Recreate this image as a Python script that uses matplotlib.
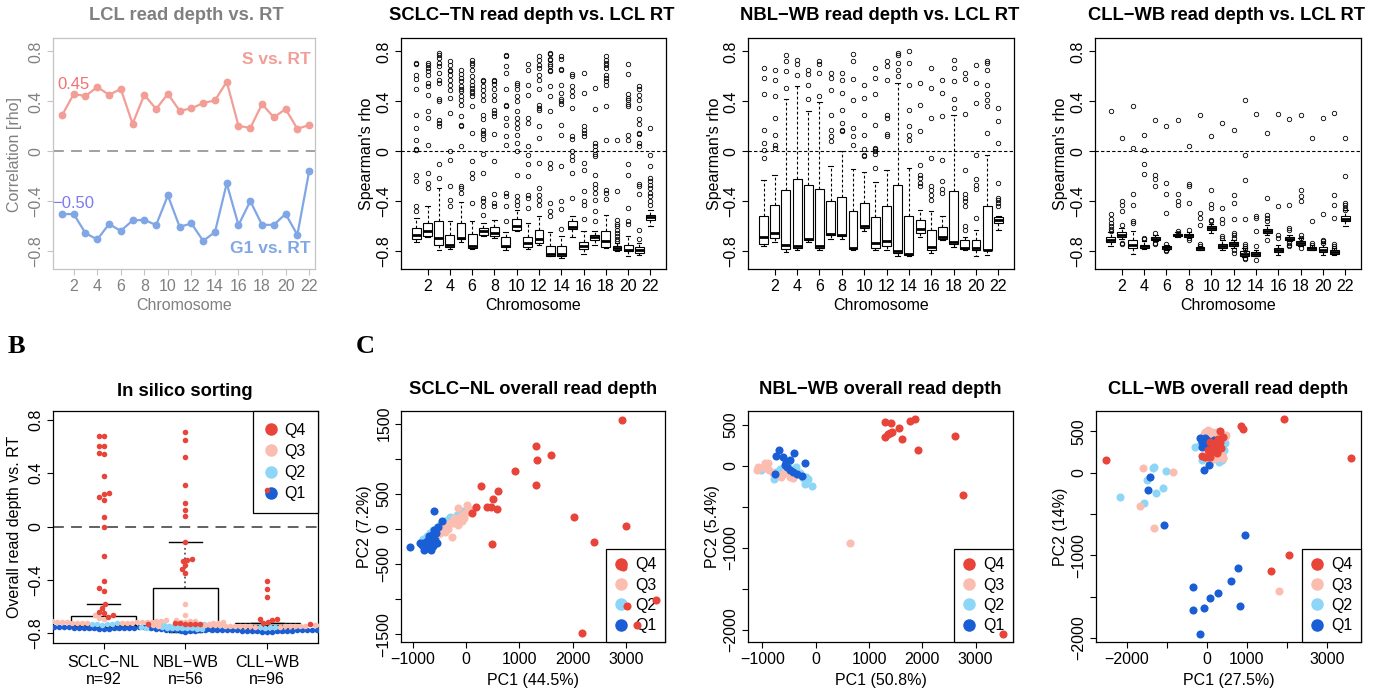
import numpy as np
import matplotlib
matplotlib.use("Agg")
import matplotlib.pyplot as plt
from matplotlib.lines import Line2D

plt.rcParams['font.family'] = ['Liberation Sans', 'DejaVu Sans']
plt.rcParams['axes.unicode_minus'] = True

W, H = 1384, 692
MINUS = "\u2212"

# ---------------------------------------------------------------- data
CHROM = list(range(1, 23))

# LCL read depth vs. replication timing, per chromosome
S_RHO = [0.288, 0.459, 0.443, 0.515, 0.453, 0.499, 0.221, 0.453, 0.339, 0.461, 0.325,
         0.344, 0.387, 0.408, 0.557, 0.205, 0.187, 0.379, 0.272, 0.339, 0.181, 0.211]
G1_RHO = [-0.501, -0.501, -0.653, -0.704, -0.581, -0.635, -0.552, -0.547, -0.589, -0.352, -0.603,
          -0.576, -0.715, -0.645, -0.256, -0.589, -0.397, -0.587, -0.587, -0.499, -0.667, -0.160]

# SCLC-TN per-chromosome box statistics
TN_Q3 = [-0.616, -0.573, -0.555, -0.667, -0.573, -0.661, -0.613, -0.608, -0.685, -0.541, -0.685,
         -0.627, -0.755, -0.755, -0.555, -0.725, -0.667, -0.635, -0.755, -0.747, -0.768, -0.507]
TN_MED = [-0.667, -0.640, -0.693, -0.752, -0.693, -0.760, -0.635, -0.653, -0.755, -0.600, -0.733,
          -0.701, -0.819, -0.819, -0.608, -0.760, -0.688, -0.720, -0.773, -0.787, -0.787, -0.525]
TN_Q1 = [-0.701, -0.675, -0.752, -0.765, -0.701, -0.773, -0.667, -0.675, -0.765, -0.627, -0.765,
         -0.733, -0.835, -0.840, -0.621, -0.781, -0.712, -0.765, -0.792, -0.800, -0.813, -0.547]
TN_HI = [-0.533, -0.440, -0.293, -0.560, -0.405, -0.560, -0.573, -0.547, -0.645, -0.467, -0.573,
         -0.520, -0.645, -0.680, -0.515, -0.640, -0.635, -0.507, -0.733, -0.680, -0.733, -0.472]
TN_LO = [-0.725, -0.688, -0.787, -0.781, -0.728, -0.781, -0.675, -0.693, -0.792, -0.640, -0.781,
         -0.747, -0.840, -0.853, -0.688, -0.819, -0.752, -0.770, -0.800, -0.835, -0.827, -0.600]
TN_OUT = [
    [0.71, 0.70, 0.61, 0.58, 0.50, 0.29, 0.19, 0.09, 0.02, 0.01, -0.19, -0.24, -0.44, -0.48],
    [0.71, 0.69, 0.67, 0.64, 0.61, 0.55, 0.52, 0.45, 0.32, 0.27, 0.05, -0.17, -0.25, -0.29],
    [0.79, 0.77, 0.75, 0.71, 0.68, 0.63, 0.57, 0.55, 0.42, 0.40, 0.25, 0.23, 0.20, -0.10, -0.21],
    [0.72, 0.69, 0.65, 0.64, 0.61, 0.57, 0.53, 0.49, 0.43, 0.31, 0.00, -0.07, -0.28, -0.39, -0.44],
    [0.65, 0.62, 0.59, 0.56, 0.52, 0.50, 0.48, 0.44, 0.41, 0.37, 0.28, 0.21, 0.20, 0.04, -0.28, -0.29, -0.33],
    [0.73, 0.71, 0.69, 0.65, 0.60, 0.56, 0.53, 0.51, 0.48, 0.47, 0.44, 0.36, 0.15, -0.08, -0.17, -0.21, -0.41],
    [0.57, 0.56, 0.52, 0.49, 0.45, 0.41, 0.29, 0.26, 0.17, 0.15, 0.13, 0.10, -0.02, -0.17, -0.37, -0.40, -0.44, -0.51],
    [0.57, 0.56, 0.54, 0.50, 0.45, 0.41, 0.33, 0.31, 0.28, 0.14, -0.08, -0.34, -0.41, -0.44],
    [0.77, 0.76, 0.68, 0.63, 0.50, 0.37, 0.36, 0.27, 0.21, 0.12, 0.05, -0.33, -0.36, -0.44, -0.56],
    [0.55, 0.53, 0.50, 0.44, 0.40, 0.32, 0.27, 0.23, 0.19, 0.13, 0.07, 0.00, -0.19, -0.36, -0.40, -0.43],
    [0.70, 0.65, 0.53, 0.45, 0.27, 0.23, 0.04, -0.03, -0.10, -0.20, -0.35, -0.37, -0.45],
    [0.76, 0.73, 0.69, 0.67, 0.61, 0.57, 0.50, 0.37, 0.35, 0.33, 0.20, 0.11, -0.09, -0.29, -0.35, -0.39, -0.43],
    [0.79, 0.78, 0.74, 0.73, 0.70, 0.68, 0.65, 0.64, 0.52, 0.44, 0.32, -0.09, -0.13, -0.41, -0.48, -0.52],
    [0.76, 0.74, 0.66, 0.65, 0.53, 0.47, 0.42, 0.40, 0.38, 0.21, 0.13, -0.12, -0.40, -0.46, -0.62],
    [0.62, 0.60, 0.52, 0.48, 0.44, 0.35, 0.12, 0.10, 0.00, -0.04, -0.07, -0.17, -0.37],
    [0.63, 0.47, 0.20, 0.17, 0.15, 0.12, -0.09, -0.15, -0.32, -0.40, -0.43, -0.54],
    [0.51, 0.34, 0.07, 0.04, 0.01, -0.02, -0.04, -0.19, -0.26, -0.29, -0.33, -0.39, -0.48, -0.56],
    [0.76, 0.73, 0.71, 0.69, 0.67, 0.61, 0.59, 0.56, 0.53, 0.36, 0.09, -0.31, -0.33, -0.38],
    [0.09, -0.32, -0.55, -0.58, -0.60, -0.63, -0.65, -0.68, -0.70, -0.72],
    [0.70, 0.62, 0.46, 0.43, 0.41, 0.38, 0.36, 0.13, 0.09, -0.10, -0.19, -0.45, -0.56, -0.58],
    [0.52, 0.50, 0.45, 0.41, 0.35, 0.26, 0.22, 0.15, 0.14, 0.07, 0.04, -0.26, -0.28, -0.34, -0.63, -0.70],
    [0.19, -0.03, -0.12, -0.21, -0.24, -0.27, -0.29, -0.33, -0.36, -0.40, -0.43],
]

# NBL-WB per-chromosome box statistics
NBL_Q3 = [-0.520, -0.427, -0.307, -0.219, -0.272, -0.301, -0.395, -0.365, -0.475, -0.413, -0.528,
          -0.440, -0.267, -0.520, -0.547, -0.627, -0.608, -0.320, -0.712, -0.707, -0.435, -0.528]
NBL_MED = [-0.685, -0.653, -0.747, -0.755, -0.701, -0.760, -0.661, -0.667, -0.773, -0.600, -0.733,
           -0.720, -0.800, -0.819, -0.621, -0.765, -0.685, -0.725, -0.773, -0.773, -0.787, -0.547]
NBL_Q1 = [-0.739, -0.693, -0.781, -0.773, -0.707, -0.773, -0.667, -0.680, -0.779, -0.613, -0.773,
          -0.760, -0.813, -0.827, -0.653, -0.787, -0.701, -0.739, -0.781, -0.792, -0.792, -0.573]
NBL_HI = [-0.227, -0.187, 0.419, 0.525, 0.320, 0.395, -0.115, 0.000, -0.139, -0.168, -0.248,
          -0.152, 0.547, -0.133, -0.467, -0.480, -0.515, 0.293, -0.685, -0.632, -0.027, -0.515]
NBL_LO = [-0.760, -0.728, -0.808, -0.792, -0.728, -0.787, -0.701, -0.701, -0.787, -0.640, -0.792,
          -0.792, -0.835, -0.840, -0.685, -0.813, -0.712, -0.765, -0.787, -0.835, -0.827, -0.627]
NBL_OUT = [
    [0.67, 0.59, 0.46, 0.17, 0.07, 0.01, -0.05],
    [0.65, 0.57, 0.44, 0.27, 0.13, 0.05, 0.03],
    [0.77, 0.72, 0.64, 0.51],
    [0.73, 0.70, 0.61],
    [0.65, 0.62, 0.53, 0.42],
    [0.72, 0.70, 0.63, 0.44],
    [0.63, 0.59, 0.49, 0.29, 0.17, 0.12, 0.08],
    [0.63, 0.57, 0.47, 0.33, 0.23, 0.17, 0.16],
    [0.78, 0.72, 0.58, 0.41, 0.19, 0.12, 0.05],
    [0.53, 0.43, 0.29, 0.13, 0.02, -0.03, -0.04],
    [0.67, 0.59, 0.46, 0.21, 0.03, 0.02, 0.00, -0.02, -0.13],
    [0.72, 0.68, 0.57, 0.29, 0.27, 0.14, 0.12],
    [0.79, 0.77, 0.71, 0.65, 0.60],
    [0.80, 0.71, 0.53, 0.33, 0.20, 0.13, 0.09],
    [0.55, 0.37, 0.16, -0.11, -0.19, -0.21, -0.25, -0.28],
    [0.67, 0.51, 0.27, -0.05, -0.28, -0.31, -0.35, -0.39],
    [0.57, 0.47, 0.28, -0.07, -0.24, -0.30, -0.33],
    [0.73, 0.67, 0.56, 0.42, 0.35],
    [0.63, 0.58, 0.30, -0.15, -0.34, -0.37, -0.40, -0.44, -0.60, -0.63],
    [0.69, 0.55, 0.39, -0.03, -0.22, -0.27, -0.30, -0.53],
    [0.72, 0.71, 0.65, 0.53, 0.46, 0.41, 0.36, 0.15],
    [0.35, 0.24, 0.07, -0.25, -0.37, -0.39, -0.41, -0.44],
]

# CLL-WB per-chromosome box statistics
CLL_Q3 = [-0.688, -0.648, -0.712, -0.747, -0.685, -0.760, -0.661, -0.661, -0.765, -0.595, -0.739,
          -0.728, -0.800, -0.805, -0.621, -0.773, -0.685, -0.720, -0.765, -0.768, -0.792, -0.520]
CLL_MED = [-0.707, -0.667, -0.747, -0.760, -0.699, -0.768, -0.667, -0.672, -0.773, -0.613, -0.760,
           -0.741, -0.819, -0.819, -0.635, -0.787, -0.699, -0.733, -0.776, -0.787, -0.805, -0.539]
CLL_Q1 = [-0.725, -0.685, -0.773, -0.773, -0.712, -0.781, -0.680, -0.685, -0.787, -0.627, -0.773,
          -0.755, -0.835, -0.835, -0.653, -0.805, -0.712, -0.747, -0.787, -0.805, -0.819, -0.560]
CLL_HI = [-0.648, -0.613, -0.635, -0.720, -0.667, -0.747, -0.648, -0.645, -0.755, -0.579, -0.712,
          -0.707, -0.773, -0.787, -0.587, -0.747, -0.667, -0.693, -0.747, -0.733, -0.773, -0.472]
CLL_LO = [-0.760, -0.701, -0.819, -0.781, -0.720, -0.787, -0.685, -0.693, -0.792, -0.653, -0.787,
          -0.773, -0.845, -0.840, -0.667, -0.827, -0.720, -0.755, -0.792, -0.827, -0.827, -0.600]
CLL_OUT = [
    [0.32, -0.50, -0.54, -0.57, -0.60, -0.62, -0.64],
    [0.11, -0.40, -0.43, -0.48, -0.59, -0.73, -0.74],
    [0.36, 0.03, -0.34, -0.43, -0.56, -0.57],
    [0.13, 0.01, -0.10, -0.18, -0.69, -0.70],
    [0.25, -0.19, -0.22, -0.28, -0.65, -0.73, -0.74],
    [0.20, -0.25, -0.34, -0.49, -0.74, -0.79, -0.80],
    [0.25, -0.34, -0.40, -0.43, -0.64, -0.65],
    [0.04, -0.26, -0.28, -0.41, -0.63, -0.69, -0.71],
    [0.29, -0.49, -0.53, -0.59, -0.74, -0.76],
    [0.12, -0.31, -0.42, -0.45, -0.55, -0.56],
    [0.23, -0.45, -0.54, -0.57, -0.68, -0.69],
    [0.17, -0.35, -0.41, -0.54, -0.65, -0.67, -0.69, -0.79, -0.81],
    [0.41, -0.03, -0.23, -0.54, -0.74, -0.76, -0.77, -0.79, -0.85, -0.86],
    [0.30, -0.52, -0.53, -0.64, -0.76, -0.87],
    [0.15, -0.37, -0.51, -0.53, -0.56, -0.71],
    [0.30, -0.44, -0.67, -0.69],
    [0.26, -0.43, -0.61, -0.63, -0.73, -0.75, -0.76],
    [0.29, -0.31, -0.36, -0.40, -0.67, -0.69, -0.77],
    [0.11, -0.56, -0.73, -0.75],
    [0.27, -0.50, -0.71, -0.72, -0.73],
    [0.31, -0.35, -0.43, -0.53, -0.74, -0.76, -0.77],
    [0.11, -0.20, -0.41, -0.43, -0.45, -0.47],
]

# In silico sorting: overall read depth vs. RT per cell, split by quartile
SORT_GROUPS = ["SCLC" + MINUS + "NL", "NBL" + MINUS + "WB", "CLL" + MINUS + "WB"]
NL_Q4 = [0.68, 0.68, 0.60, 0.60, 0.55, 0.54, 0.38, 0.25, 0.24, 0.22, 0.20, 0.07, 0.00, -0.22,
         -0.41, -0.46, -0.48, -0.58, -0.61, -0.64, -0.645, -0.66, -0.675]
NL_Q3 = [-0.665, -0.684, -0.693, -0.702, -0.704, -0.707, -0.709, -0.71, -0.711, -0.713, -0.713, -0.715,
         -0.716, -0.716, -0.717, -0.718, -0.719, -0.719, -0.72, -0.721, -0.722, -0.723, -0.724]
NL_Q2 = [-0.726, -0.727, -0.729, -0.73, -0.73, -0.731, -0.732, -0.733, -0.734, -0.734, -0.735, -0.736,
         -0.737, -0.737, -0.738, -0.739, -0.74, -0.741, -0.741, -0.742, -0.743, -0.745, -0.747]
NL_Q1 = [-0.748, -0.749, -0.75, -0.751, -0.751, -0.752, -0.753, -0.754, -0.754, -0.755, -0.756, -0.756,
         -0.757, -0.758, -0.758, -0.759, -0.76, -0.761, -0.762, -0.763, -0.764, -0.766, -0.769]
WB_Q4 = [0.71, 0.65, 0.52, 0.31, 0.175, 0.125, 0.08, -0.115, -0.245, -0.25, -0.26, -0.29, -0.32, -0.345]
WB_Q3 = [-0.58, -0.66, -0.70, -0.706, -0.709, -0.712, -0.714, -0.716, -0.719, -0.721, -0.724, -0.726,
         -0.729, -0.731]
WB_Q2 = [-0.734, -0.736, -0.739, -0.741, -0.742, -0.744, -0.746, -0.748, -0.75, -0.751, -0.753, -0.755,
         -0.758, -0.76]
WB_Q1 = [-0.763, -0.765, -0.767, -0.768, -0.77, -0.772, -0.773, -0.775, -0.777, -0.778, -0.78, -0.782,
         -0.785, -0.788]
CL_Q4 = [0.27, -0.41, -0.47, -0.53, -0.69, -0.695, -0.70, -0.718, -0.722, -0.724, -0.725, -0.726,
         -0.727, -0.728, -0.728, -0.729, -0.73, -0.73, -0.731, -0.731, -0.732, -0.733, -0.733, -0.734]
CL_Q3 = [-0.735, -0.736, -0.736, -0.737, -0.738, -0.738, -0.739, -0.74, -0.74, -0.741, -0.741, -0.742,
         -0.742, -0.743, -0.744, -0.744, -0.745, -0.745, -0.746, -0.747, -0.747, -0.748, -0.749, -0.75]
CL_Q2 = [-0.751, -0.752, -0.752, -0.753, -0.754, -0.755, -0.755, -0.756, -0.757, -0.757, -0.758, -0.759,
         -0.759, -0.76, -0.761, -0.761, -0.762, -0.763, -0.763, -0.764, -0.765, -0.766, -0.767, -0.768]
CL_Q1 = [-0.769, -0.77, -0.771, -0.772, -0.772, -0.773, -0.774, -0.775, -0.775, -0.776, -0.777, -0.778,
         -0.778, -0.779, -0.78, -0.781, -0.781, -0.782, -0.783, -0.784, -0.785, -0.786, -0.788, -0.79]
SORT_Q3 = [-0.668, -0.458, -0.722]
SORT_MED = [-0.735, -0.745, -0.745]
SORT_Q1 = [-0.750, -0.765, -0.760]
SORT_HI = [-0.580, -0.115, -0.720]
SORT_LO = [-0.770, -0.790, -0.790]

# PCA of overall read depth, by quartile
NL_PC1_Q4 = [2919, 1313, 1331, 1588, 913, 1306, 275, 606, 513, 181, 119, 388, 575, 469, 2025, 3000,
             2400, 488, 2938, 3563, 3013, 3200, 2181]
NL_PC2_Q4 = [1545, 1183, 981, 1047, 826, 620, 610, 540, 423, 315, 221, 310, 282, 315, 174, 42,
             -183, -216, -540, -1009, -1103, -1376, -1479]
NL_PC1_Q3 = [-144, 13, -206, -113, -238, -50, -19, -363, -269, -425, -488, -175, -81, -300, 44, 106,
             -331, -144, -394, -225, -38, -550, -456]
NL_PC2_Q3 = [300, 338, 127, 174, 80, 197, 230, 33, -117, -14, -61, 103, 117, 89, 244, 268, 0, 56,
             -38, 160, 150, -85, 56]
NL_PC1_Q2 = [-300, -363, -488, -550, -425, -331, -613, -675, -81, -175, -519, -738, -800, -581, -238,
             -456, -644, -394, -831, -269, -488, -706, -363]
NL_PC2_Q2 = [174, 127, 56, 33, 103, 80, -14, -61, 254, 197, -5, -108, -146, -38, 150, 33, -85, 56,
             -178, 127, -14, -131, 9]
NL_PC1_Q1 = [-594, -444, -519, -1044, -800, -769, -675, -644, -613, -581, -706, -550, -831, -738, -644,
             -725, -563, -625, -688, -788, -594, -863, -663]
NL_PC2_Q1 = [258, 117, 23, -254, -202, -272, -155, -202, -108, -155, -225, -202, -225, -249, -85,
             -178, -61, -249, -108, -296, -14, -202, -296]

WB_PC1_Q4 = [1306, 1419, 1763, 1856, 1563, 1388, 1438, 1300, 1625, 1919, 2606, 2763, 3513, 1350]
WB_PC2_Q4 = [536, 515, 544, 564, 458, 394, 414, 345, 325, 191, 361, -353, -2049, 380]
WB_PC1_Q3 = [-1081, -956, -894, -1100, -869, -988, -613, -644, -488, -425, -581, -800, 638, -925]
WB_PC2_Q3 = [-12, 28, 37, -53, -53, -20, -101, -134, -134, -154, -73, -93, -945, -32]
WB_PC1_Q2 = [-1019, -788, -363, -300, -188, -144, -206, -63, -456, -519, -675, -738, -238, -394]
WB_PC2_Q2 = [-53, -166, -20, -93, -134, -162, -223, -243, -73, 8, -45, -73, -154, -114]
WB_PC1_Q1 = [-688, -750, -613, -413, -550, -488, -581, -538, -488, -769, -206, -344, -250, -425]
WB_PC2_Q1 = [191, 118, 110, 158, 49, 69, 8, -12, -53, -105, 28, -101, -122, -73]

CL_PC1_Q4 = [-2517, 3600, 1917, 850, 892, 333, 400, 83, 208, 292, 150, 233, 25, 350, -42, 67, 250,
             167, 125, 317, 2042, 1600, -125, 275]
CL_PC2_Q4 = [153, 181, 644, 567, 527, 507, 435, 374, 354, 334, 294, 274, 274, 294, 185, 193, 233,
             314, 254, 374, -998, -1195, 201, 402]
CL_PC1_Q3 = [-1600, -850, -1667, -1333, 1792, 0, 125, -83, 483, 250, 42, 375, 183, 83, 292, -42, 458,
             150, 333, 208, 17, 400, 125, 267]
CL_PC2_Q3 = [52, 12, -402, -672, -1437, 483, 495, 467, 455, 173, 153, 213, 475, 443, 193, 495, 427,
             161, 414, 455, 515, 173, 201, 487]
CL_PC1_Q2 = [-2183, -1333, -1350, -1017, -1500, -1267, -1100, -1583, -292, -125, 400, 375, 250, 417,
             -83, 42, -167, 292, 167, 458, 83, 375, 208, -42]
CL_PC2_Q2 = [-290, 72, 52, 20, -89, -249, -189, -362, 314, 153, 173, 225, 495, 274, 394, 435, 334,
             133, 475, 354, 133, 153, 414, 354]
CL_PC1_Q1 = [-1433, -1483, -1067, 942, 767, 608, -350, 275, 67, -67, -350, 833, -183, -67, 42, -125,
             -125, 0, 125, -83, -42, 83, -167, 167]
CL_PC2_Q1 = [-56, -209, -636, -757, -1159, -1316, -1384, -1457, -1517, -1638, -1666, -1618, -1948,
             32, 93, 374, 314, 394, 374, 334, 414, 314, 414, 394]

# ---------------------------------------------------------------- style
Q_COLORS = {"Q4": "#E8443A", "Q3": "#FBBDAF", "Q2": "#8ED6F8", "Q1": "#1A5ED6"}
S_COLOR, G1_COLOR = "#F29E97", "#80A6E6"
GREY_TXT, GREY_AX = "#808080", "#C4C4C4"
FS_TICK, FS_LAB, FS_TITLE = 11.5, 11.5, 13.2

fig = plt.figure(figsize=(W / 100, H / 100), dpi=100)


def axes_px(x0, y0, x1, y1):
    return fig.add_axes([x0 / W, 1 - y1 / H, (x1 - x0) / W, (y1 - y0) / H])


def ftext(xp, yp, s, **kw):
    fig.text(xp / W, 1 - yp / H, s, **kw)


def fmt(v):
    s = ("%g" % v)
    return s.replace("-", MINUS)


def r_axes(ax, color="black", labelcolor="black"):
    for sp in ax.spines.values():
        sp.set_color(color)
        sp.set_linewidth(0.9)
    ax.tick_params(direction="out", length=4.5, width=0.8, color=color,
                   labelcolor=labelcolor, labelsize=FS_TICK, pad=2.5)


def set_yticks(ax, ticks, labels=None):
    ax.set_yticks(ticks)
    if labels is None:
        labels = [fmt(t) for t in ticks]
    ax.set_yticklabels(labels, rotation=90, va="center")


def set_xticks(ax, ticks, labels=None):
    ax.set_xticks(ticks)
    if labels is None:
        labels = [fmt(t) for t in ticks]
    ax.set_xticklabels(labels)


# ---------------------------------------------------------------- A1: LCL lines
ax = axes_px(53, 38, 315, 269)
ax.axhline(0, color="#999999", lw=1.3, dashes=(6, 4), zorder=1)
ax.plot(CHROM, S_RHO, "-o", color=S_COLOR, lw=1.6, ms=4.6, zorder=3)
ax.plot(CHROM, G1_RHO, "-o", color=G1_COLOR, lw=1.6, ms=4.6, zorder=3)
ax.set_xlim(0.24, 22.5)
ax.set_ylim(-0.94, 0.907)
r_axes(ax, GREY_AX, GREY_TXT)
set_xticks(ax, list(range(2, 23, 2)))
set_yticks(ax, [-0.8, -0.4, 0, 0.4, 0.8])
ax.text(22.1, 0.733, "S vs. RT", color=S_COLOR, fontsize=12.5, fontweight="bold",
        ha="right", va="center")
ax.text(22.1, -0.773, "G1 vs. RT", color=G1_COLOR, fontsize=12.5, fontweight="bold",
        ha="right", va="center")
ax.text(0.62, 0.535, "0.45", color="#F07272", fontsize=12, ha="left", va="center")
ax.text(0.15, -0.42, MINUS + "0.50", color="#7B7BF2", fontsize=12, ha="left", va="center")
ftext(186, 15, "LCL read depth vs. RT", ha="center", va="center", fontsize=FS_TITLE,
      fontweight="bold", color=GREY_TXT)
ftext(15, 154, "Correlation [rho]", ha="center", va="center", rotation=90,
      fontsize=FS_LAB, color=GREY_TXT)
ftext(184, 305, "Chromosome", ha="center", va="center", fontsize=FS_LAB, color=GREY_TXT)


# ---------------------------------------------------------------- A2-A4: boxplots
def chrom_boxes(box_px, q1, med, q3, lo, hi, out, title, title_x):
    ax = axes_px(*box_px)
    stats = [dict(q1=a, med=b, q3=c, whislo=d, whishi=e, fliers=f)
             for a, b, c, d, e, f in zip(q1, med, q3, lo, hi, out)]
    ax.axhline(0, color="black", lw=0.8, dashes=(3, 2), zorder=1)
    ax.bxp(stats, positions=CHROM, widths=0.8, capwidths=0.4, patch_artist=True,
           manage_ticks=False,
           boxprops=dict(facecolor="white", edgecolor="black", lw=0.8),
           medianprops=dict(color="black", lw=2.0, solid_capstyle="butt"),
           whiskerprops=dict(color="black", lw=0.8, dashes=(2.5, 2)),
           capprops=dict(color="black", lw=0.8),
           flierprops=dict(marker="o", mfc="none", mec="black", ms=3.2, mew=0.6))
    ax.set_xlim(-0.39, 23.4)
    ax.set_ylim(-0.94, 0.907)
    r_axes(ax)
    set_xticks(ax, list(range(2, 23, 2)))
    set_yticks(ax, [-0.8, -0.4, 0, 0.4, 0.8])
    x0, y0, x1, y1 = box_px
    ftext(title_x, 15, title, ha="center", va="center", fontsize=FS_TITLE, fontweight="bold")
    ftext(x0 - 34, (y0 + y1) / 2, "Spearman's rho", ha="center", va="center", rotation=90,
          fontsize=FS_LAB)
    ftext((x0 + x1) / 2, 305, "Chromosome", ha="center", va="center", fontsize=FS_LAB)
    return ax


chrom_boxes((401, 38, 666, 269), TN_Q1, TN_MED, TN_Q3, TN_LO, TN_HI, TN_OUT,
            "SCLC" + MINUS + "TN read depth vs. LCL RT", 532)
chrom_boxes((748, 38, 1014, 269), NBL_Q1, NBL_MED, NBL_Q3, NBL_LO, NBL_HI, NBL_OUT,
            "NBL" + MINUS + "WB read depth vs. LCL RT", 880)
chrom_boxes((1095, 38, 1361, 269), CLL_Q1, CLL_MED, CLL_Q3, CLL_LO, CLL_HI, CLL_OUT,
            "CLL" + MINUS + "WB read depth vs. LCL RT", 1227)


# ---------------------------------------------------------------- B: in silico sorting
def legend_q(ax, loc, borderpad=0.55, labelspacing=0.33):
    handles = [Line2D([0], [0], marker="o", ls="none", mfc=Q_COLORS[q], mec=Q_COLORS[q], ms=8)
               for q in ["Q4", "Q3", "Q2", "Q1"]]
    leg = ax.legend(handles, ["Q4", "Q3", "Q2", "Q1"], loc=loc, frameon=True, fancybox=False,
                    edgecolor="black", framealpha=1, borderaxespad=0, fontsize=FS_TICK,
                    handlelength=0.8, handletextpad=0.45, labelspacing=labelspacing,
                    borderpad=borderpad)
    leg.get_frame().set_linewidth(0.9)
    leg.set_zorder(5)
    return leg


def swarm_offsets(ypix, diam):
    ypix = np.asarray(ypix, float)
    xs = np.zeros(len(ypix))
    done = []
    for i in np.argsort(ypix, kind="stable"):
        y = ypix[i]
        spans = []
        for j in done:
            dy = abs(ypix[j] - y)
            if dy < diam:
                half = np.sqrt(diam ** 2 - dy ** 2)
                spans.append((xs[j] - half, xs[j] + half))
        cands = [0.0] + [a for a, _ in spans] + [b for _, b in spans]
        cands.sort(key=lambda c: (abs(c), c))
        for c in cands:
            if all(c <= a + 1e-6 or c >= b - 1e-6 for a, b in spans):
                xs[i] = c
                break
        done.append(i)
    return xs


axB = axes_px(53, 411, 318, 643)
axB.set_xlim(0.38, 3.62)
axB.set_ylim(-0.872, 0.865)
axB.axhline(0, color="#555555", lw=1.3, dashes=(6, 4), zorder=1)
bstats = [dict(q1=a, med=b, q3=c, whislo=d, whishi=e, fliers=[])
          for a, b, c, d, e in zip(SORT_Q1, SORT_MED, SORT_Q3, SORT_LO, SORT_HI)]
axB.bxp(bstats, positions=[1, 2, 3], widths=0.8, capwidths=0.4, patch_artist=True,
        manage_ticks=False, showfliers=False,
        boxprops=dict(facecolor="white", edgecolor="black", lw=1.0),
        medianprops=dict(color="black", lw=2.0),
        whiskerprops=dict(color="#555555", lw=1.3, ls=":"),
        capprops=dict(color="black", lw=1.0))
sort_sets = [
    {"Q1": NL_Q1, "Q2": NL_Q2, "Q3": NL_Q3, "Q4": NL_Q4},
    {"Q1": WB_Q1, "Q2": WB_Q2, "Q3": WB_Q3, "Q4": WB_Q4},
    {"Q1": CL_Q1, "Q2": CL_Q2, "Q3": CL_Q3, "Q4": CL_Q4},
]
px_x = axB.transData.transform((1, 0))[0] - axB.transData.transform((0, 0))[0]
for g, qsets in enumerate(sort_sets, start=1):
    order = ["Q1", "Q2", "Q3", "Q4"]
    yv = np.concatenate([qsets[q] for q in order])
    lab = np.concatenate([[q] * len(qsets[q]) for q in order])
    ypix = axB.transData.transform(np.column_stack([np.full(len(yv), g), yv]))[:, 1]
    xoff = swarm_offsets(ypix, 5.0) / px_x
    for q in order:
        m = lab == q
        axB.scatter(g + xoff[m], yv[m], s=16, color=Q_COLORS[q], linewidths=0, zorder=6)
    axB.text(g, -0.082, SORT_GROUPS[g - 1], transform=axB.get_xaxis_transform(),
             ha="center", va="center", fontsize=FS_TICK)
    axB.text(g, -0.159, "n=%d" % len(yv), transform=axB.get_xaxis_transform(),
             ha="center", va="center", fontsize=FS_TICK)
r_axes(axB)
axB.set_xticks([1, 2, 3])
axB.set_xticklabels([])
set_yticks(axB, [-0.8, -0.4, 0, 0.4, 0.8])
legend_q(axB, "upper right", borderpad=0.75, labelspacing=0.38)
ftext(185, 391, "In silico sorting", ha="center", va="center", fontsize=FS_TITLE, fontweight="bold")
ftext(15, 527, "Overall read depth vs. RT", ha="center", va="center", rotation=90, fontsize=FS_LAB)
ftext(8, 347, "B", ha="left", va="center", fontsize=19, fontweight="bold", family="Liberation Serif")
ftext(356, 347, "C", ha="left", va="center", fontsize=19, fontweight="bold", family="Liberation Serif")


# ---------------------------------------------------------------- C: PCA scatter
def pca_panel(box_px, pcs, xlim, ylim, xt, xtl, yt, ytl, title, xlab, ylab):
    ax = axes_px(*box_px)
    for q in ["Q2", "Q3", "Q1", "Q4"]:
        px, py = pcs[q]
        ax.scatter(px, py, s=34, color=Q_COLORS[q], linewidths=0, zorder=6)
    ax.set_xlim(*xlim)
    ax.set_ylim(*ylim)
    r_axes(ax)
    set_xticks(ax, xt, xtl)
    set_yticks(ax, yt, ytl)
    legend_q(ax, "lower right")
    x0, y0, x1, y1 = box_px
    ftext((x0 + x1) / 2, 390, title, ha="center", va="center", fontsize=FS_TITLE, fontweight="bold")
    ftext(x0 - 36, (y0 + y1) / 2, ylab, ha="center", va="center", rotation=90, fontsize=FS_LAB)
    ftext((x0 + x1) / 2, 680, xlab, ha="center", va="center", fontsize=FS_LAB)


M = MINUS
pca_panel((401, 411, 665, 642),
          {"Q4": (NL_PC1_Q4, NL_PC2_Q4), "Q3": (NL_PC1_Q3, NL_PC2_Q3),
           "Q2": (NL_PC1_Q2, NL_PC2_Q2), "Q1": (NL_PC1_Q1, NL_PC2_Q1)},
          (-1219, 3731), (-1611, 1678),
          [-1000, 0, 1000, 2000, 3000], None,
          [-1500, -1000, -500, 0, 500, 1000, 1500],
          [M + "1500", "", M + "500", "0", "500", "", "1500"],
          "SCLC" + M + "NL overall read depth", "PC1 (44.5%)", "PC2 (7.2%)")
pca_panel((748, 411, 1013, 642),
          {"Q4": (WB_PC1_Q4, WB_PC2_Q4), "Q3": (WB_PC1_Q3, WB_PC2_Q3),
           "Q2": (WB_PC1_Q2, WB_PC2_Q2), "Q1": (WB_PC1_Q1, WB_PC2_Q1)},
          (-1269, 3700), (-2150, 665),
          [-1000, 0, 1000, 2000, 3000], None,
          [-2000, -1500, -1000, -500, 0, 500],
          [M + "2000", "", M + "1000", "", "0", "500"],
          "NBL" + M + "WB overall read depth", "PC1 (50.8%)", "PC2 (5.4%)")
pca_panel((1096, 411, 1361, 642),
          {"Q4": (CL_PC1_Q4, CL_PC2_Q4), "Q3": (CL_PC1_Q3, CL_PC2_Q3),
           "Q2": (CL_PC1_Q2, CL_PC2_Q2), "Q1": (CL_PC1_Q1, CL_PC2_Q1)},
          (-2775, 3850), (-2048, 744),
          [-2000, -1000, 0, 1000, 2000, 3000],
          [M + "2000", "", "0", "1000", "", "3000"],
          [-2000, -1500, -1000, -500, 0, 500],
          [M + "2000", "", M + "1000", "", "0", "500"],
          "CLL" + M + "WB overall read depth", "PC1 (27.5%)", "PC2 (14%)")

fig.savefig("out.png", dpi=100)
